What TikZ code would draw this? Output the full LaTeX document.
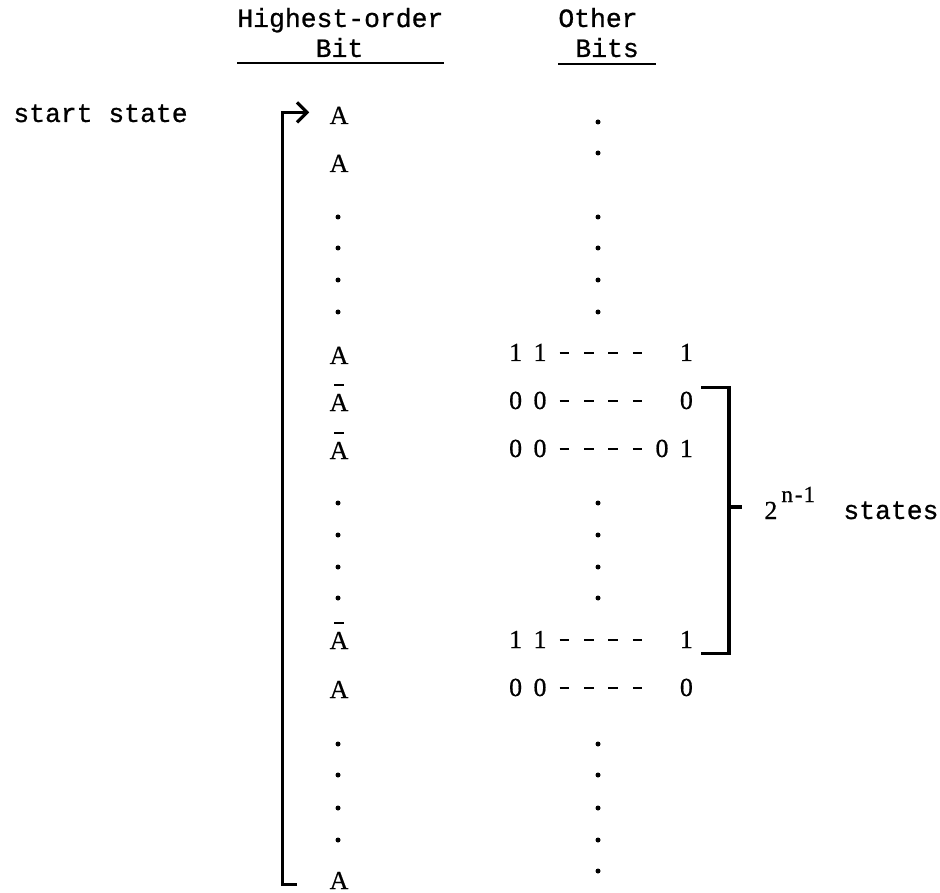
\documentclass[tikz,border=0pt]{standalone}
\usepackage{fontspec}
\setmainfont{Liberation Serif}[FakeBold=0.6]
\setmonofont{Liberation Mono}[FakeBold=0.8]
\usetikzlibrary{arrows.meta}

\newcommand{\typedfont}{\ttfamily\fontsize{13.2}{16}\selectfont}
\newcommand{\bitfont}{\fontsize{13}{16}\selectfont}
\newcommand{\bc}[1]{\makebox[12.2pt]{#1}}
\newcommand{\dsh}{\bc{\rule[3.6pt]{4.8pt}{1.1pt}}}
\newcommand{\abar}{\makebox[0pt][l]{\hspace{2.2pt}\rule[12.5pt]{5pt}{1pt}}A}

\tikzstyle{typed} = [font=\typedfont, inner sep=0pt, anchor=base west]
\tikzstyle{hibit} = [font=\bitfont, inner sep=0pt, anchor=base]
\tikzstyle{otherbits} = [font=\bitfont, inner sep=0pt, anchor=base west]
\tikzstyle{arrow} = [line width=1.6pt, -{Straight Barb[length=5pt,width=10pt]}]
\tikzstyle{bracket} = [line width=1.6pt]
\tikzstyle{headline} = [line width=0.9pt]

\begin{document}
\begin{tikzpicture}[x=0.5pt, y=-0.5pt]
\useasboundingbox (0,0) rectangle (940,892);

%Headings
\node (hiTop) [typed] at (237,27) {Highest-order};
\node (hiBot) [typed, anchor=base] at (339.5,57) {Bit};
\node (otTop) [typed] at (558,27) {Other};
\node (otBot) [typed] at (575,57) {Bits};
\node (start) [typed] at (13,122) {start state};

%Highest-order bit
\node (a1) [hibit] at (339,124) {A};
\node (a2) [hibit] at (339,172) {A};
\node (a3) [hibit] at (339,364) {A};
\node (n1) [hibit] at (339,411) {\abar};
\node (n2) [hibit] at (339,459) {\abar};
\node (n3) [hibit] at (339,649) {\abar};
\node (a4) [hibit] at (339,698) {A};
\node (a5) [hibit] at (339,889) {A};

%Other bits
\node (bitsA) [otherbits] at (503,361) {\bc1\bc1\dsh\dsh\dsh\dsh\bc{}\bc1};
\node (bitsB) [otherbits] at (503,409) {\bc0\bc0\dsh\dsh\dsh\dsh\bc{}\bc0};
\node (bitsC) [otherbits] at (503,457) {\bc0\bc0\dsh\dsh\dsh\dsh\bc0\bc1};
\node (bitsD) [otherbits] at (503,648) {\bc1\bc1\dsh\dsh\dsh\dsh\bc{}\bc1};
\node (bitsE) [otherbits] at (503,696) {\bc0\bc0\dsh\dsh\dsh\dsh\bc{}\bc0};

\node (pow) [otherbits] at (764,519) {2\hspace{2pt}\raisebox{8.5pt}{\fontsize{11.5}{12}\selectfont n\hspace{1pt}-\hspace{0.5pt}1}};
\node (states) [typed] at (843,519) {states};

%Dots
\foreach \y in {217,248,280,312,503,535,567,598,744,775,808,840}
  \fill (338,\y) circle (2.5);
\foreach \y in {122,153,217,248,280,312,503,535,567,598,744,775,808,840,871}
  \fill (598,\y) circle (2.5);

%Lines
\draw [headline] ([yshift=-18pt]hiTop.base west) -- ([yshift=-18pt]hiTop.base east);
\draw [headline] ([yshift=-18.5pt]otTop.base west) -- ([shift={(17,7)}]otBot.base east);
\draw [arrow] ([shift={(-32,4)}]a5.west) -- ++(-15,0) |- ([shift={(-20,-3)}]a1.west);
\draw [bracket] ([shift={(2,-4)}]bitsB.north east) -- ++(28,0) |- ([shift={(2,5)}]bitsD.south east);
\draw [bracket] ([shift={(-36,-12)}]pow.base west) -- ++(14,0);

\end{tikzpicture}
\end{document}
